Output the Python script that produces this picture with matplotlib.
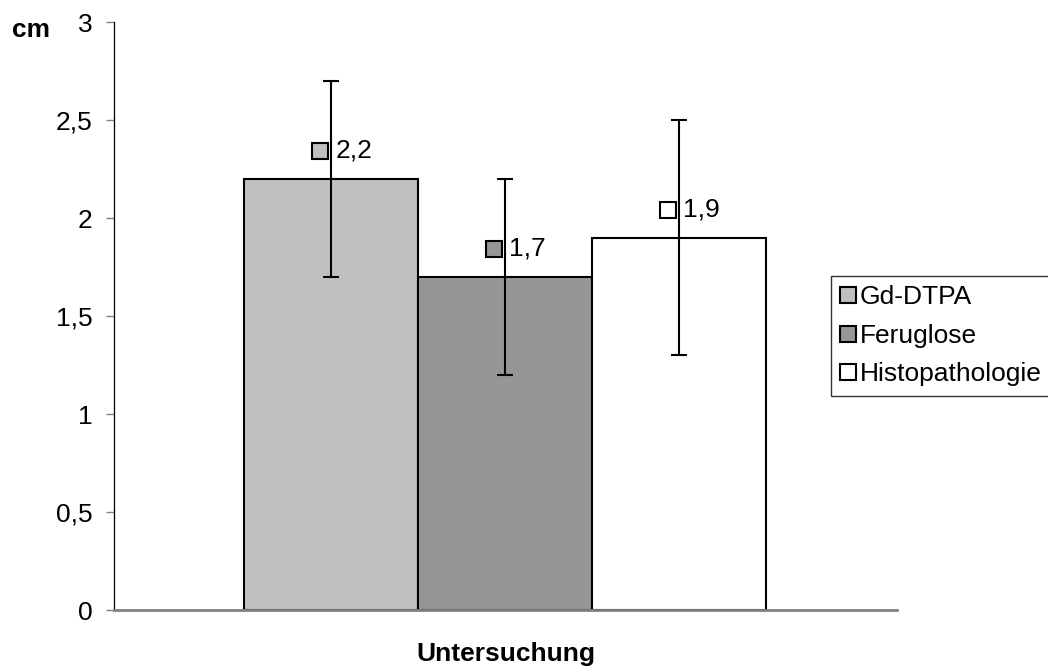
import matplotlib
matplotlib.use("Agg")
import matplotlib.pyplot as plt
import matplotlib.transforms as mtransforms
from matplotlib.lines import Line2D

plt.rcParams['font.family'] = ['Liberation Sans', 'DejaVu Sans']

series = ["Gd-DTPA", "Feruglose", "Histopathologie"]
values = [2.2, 1.7, 1.9]
err_low = [1.7, 1.2, 1.3]
err_high = [2.7, 2.2, 2.5]
value_labels = ["2,2", "1,7", "1,9"]
colors = ["#C0C0C0", "#969696", "#FFFFFF"]
yticks = [0, 0.5, 1, 1.5, 2, 2.5, 3]
ytick_labels = ["0", "0,5", "1", "1,5", "2", "2,5", "3"]

W, H = 1048, 668
fig = plt.figure(figsize=(W / 100, H / 100), dpi=100)
left, right, top, bottom = 113.5, 897, 22, 610
ax = fig.add_axes([left / W, 1 - bottom / H, (right - left) / W, (bottom - top) / H])

bw = 174 / (right - left)
offsets = [-bw, 0, bw]
FS = 19

for i, (s, v, c) in enumerate(zip(series, values, colors)):
    x = offsets[i]
    ax.bar(x, v, width=bw, color=c, edgecolor="black", linewidth=1.5, zorder=2)
    lo = v - err_low[i]
    hi = err_high[i] - v
    ax.errorbar(x, v, yerr=[[lo], [hi]], fmt="none", ecolor="black",
                elinewidth=1.5, capsize=6, capthick=1.5, zorder=3)
    # value label with legend key
    tr_sq = mtransforms.offset_copy(ax.transData, fig=fig, x=-11.5, y=28, units="dots")
    ax.plot([x], [v], marker="s", ms=11, mfc=c, mec="black", mew=1.5,
            transform=tr_sq, zorder=4, clip_on=False)
    tr_tx = mtransforms.offset_copy(ax.transData, fig=fig, x=4, y=28, units="dots")
    ax.text(x, v, value_labels[i], transform=tr_tx, ha="left", va="center",
            fontsize=FS, zorder=4)

ax.set_xlim(-0.5, 0.5)
ax.set_ylim(0, 3)
ax.set_yticks(yticks)
ax.set_yticklabels(ytick_labels, fontsize=FS)
ax.set_xticks([])
ax.tick_params(axis="y", direction="out", length=6, width=1, color="#808080", pad=9)

for sp in ["top", "right"]:
    ax.spines[sp].set_visible(False)
ax.spines["left"].set_color("black")
ax.spines["left"].set_linewidth(0.9)
ax.spines["bottom"].set_color("#808080")
ax.spines["bottom"].set_linewidth(2)
ax.spines["bottom"].set_zorder(5)

fig.text(12 / W, 1 - 30 / H, "cm", fontsize=FS, fontweight="bold", ha="left", va="center")
fig.text(505.5 / W, 1 - 654 / H, "Untersuchung", fontsize=FS, fontweight="bold",
         ha="center", va="center")

handles = [Line2D([], [], linestyle="none", marker="s", ms=11, mfc=c, mec="black", mew=1.5)
           for c in colors]
leg = fig.legend(handles, series, loc="upper left",
                 bbox_to_anchor=(831 / W, 1 - 276 / H), bbox_transform=fig.transFigure,
                 fontsize=FS, frameon=True, fancybox=False, shadow=False,
                 handlelength=0.6, handletextpad=0.15, labelspacing=0.55,
                 borderpad=0.35, borderaxespad=0)
leg.get_frame().set_edgecolor("black")
leg.get_frame().set_linewidth(1)

fig.savefig("out.png", dpi=100)
